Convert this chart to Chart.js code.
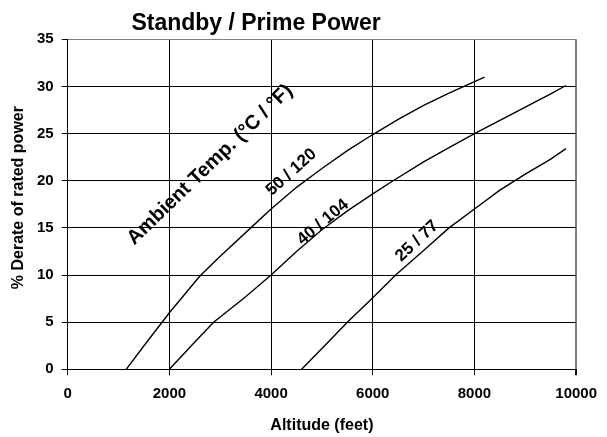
<!DOCTYPE html>
<html>
<head>
<meta charset="utf-8">
<script src="https://cdn.jsdelivr.net/npm/chart.js@4.4.1/dist/chart.umd.min.js"></script>
<style>
  html, body { margin: 0; padding: 0; background: #fff; }
  #wrap { width: 607px; height: 437px; }
</style>
</head>
<body>
<div id="wrap"><canvas id="myChart"></canvas></div>
<script>
// derate curves (altitude in feet, derate in %)
var alt50 = [1150, 1500, 2000, 2600, 3000, 3600, 4000, 4500, 5000, 5500, 6000, 6500, 7000, 7500, 8000, 8200];
var der50 = [0, 2.5, 6.0, 9.9, 12.0, 15.0, 17.0, 19.3, 21.3, 23.2, 24.9, 26.5, 28.0, 29.3, 30.5, 31.0];

var alt40 = [2000, 2500, 2870, 3500, 4000, 4500, 5000, 5500, 6000, 6400, 7000, 7500, 8000, 8500, 9000, 9500, 9800];
var der40 = [0, 2.9, 5.0, 7.7, 10.0, 12.5, 14.8, 16.8, 18.6, 20.0, 22.0, 23.5, 25.0, 26.4, 27.8, 29.2, 30.1];

var alt25 = [4600, 5000, 5500, 6000, 6450, 7000, 7500, 8000, 8500, 9000, 9500, 9800];
var der25 = [0, 2.2, 5.0, 7.6, 10.0, 12.6, 15.0, 17.0, 19.0, 20.7, 22.3, 23.4];

var xTicks = [0, 2000, 4000, 6000, 8000, 10000];
var yTicks = [0, 5, 10, 15, 20, 25, 30, 35];

var FONT = "'Liberation Sans', Arial, sans-serif";

function pts(xs, ys) {
    return xs.map(function (x, i) { return { x: x, y: ys[i] }; });
}

function line(label, xs, ys) {
    return {
        label: label,
        data: pts(xs, ys),
        showLine: true,
        borderColor: '#000',
        borderWidth: 1.4,
        pointRadius: 0,
        tension: 0,
        fill: false
    };
}

// curve labels, anchored in data units
var notes = [
    { text: 'Ambient Temp. (\u00B0C / \u00B0F)', x: 2800, y: 21.7, angle: -44, size: 20 },
    { text: '50 / 120', x: 4400, y: 20.9, angle: -42, size: 17 },
    { text: '40 / 104', x: 5020, y: 15.6, angle: -40, size: 17 },
    { text: '25 / 77', x: 6870, y: 13.6, angle: -43, size: 17 }
];

var notesPlugin = {
    id: 'notes',
    afterDatasetsDraw: function (chart) {
        var ctx = chart.ctx;
        var xs = chart.scales.x, ys = chart.scales.y;
        ctx.save();
        ctx.fillStyle = '#000';
        ctx.textAlign = 'center';
        ctx.textBaseline = 'middle';
        notes.forEach(function (n) {
            ctx.save();
            ctx.translate(xs.getPixelForValue(n.x), ys.getPixelForValue(n.y));
            ctx.rotate(n.angle * Math.PI / 180);
            ctx.font = 'bold ' + n.size + 'px ' + FONT;
            ctx.fillText(n.text, 0, 0);
            ctx.restore();
        });
        ctx.restore();
    }
};

// title sits a bit left of centre in the original
var titlePlugin = {
    id: 'topTitle',
    afterDraw: function (chart) {
        var ctx = chart.ctx;
        ctx.save();
        ctx.fillStyle = '#000';
        ctx.font = 'bold 23px ' + FONT;
        ctx.textAlign = 'center';
        ctx.textBaseline = 'alphabetic';
        ctx.fillText('Standby / Prime Power', 256, 30);
        ctx.restore();
    }
};

var ctx = document.getElementById('myChart').getContext('2d');
var chart = new Chart(ctx, {
    type: 'scatter',
    data: {
        datasets: [
            line('50 / 120', alt50, der50),
            line('40 / 104', alt40, der40),
            line('25 / 77', alt25, der25)
        ]
    },
    plugins: [notesPlugin, titlePlugin],
    options: {
        responsive: true,
        maintainAspectRatio: false,
        animation: false,
        layout: { padding: { top: 39.3, right: 23.7, bottom: 0, left: 0 } },
        plugins: {
            legend: { display: false },
            tooltip: { enabled: false }
        },
        scales: {
            x: {
                type: 'linear',
                min: 0,
                max: 10000,
                afterBuildTicks: function (s) { s.ticks = xTicks.map(function (v) { return { value: v }; }); },
                afterFit: function (s) { s.height = 67.7; },
                ticks: {
                    color: '#000',
                    padding: 10,
                    maxRotation: 0,
                    callback: function (v) { return String(v); },
                    font: { family: FONT, size: 15, weight: 'bold' }
                },
                grid: {
                    color: function (c) { return c.tick && c.tick.value === 10000 ? '#808080' : '#000'; },
                    lineWidth: function (c) { return c.tick && c.tick.value === 10000 ? 2 : 1; },
                    tickLength: 6,
                    tickColor: '#000'
                },
                border: { color: '#000', width: 1 },
                title: {
                    display: true,
                    text: 'Altitude (feet)',
                    color: '#000',
                    padding: { top: 0, bottom: 1.4 },
                    font: { family: FONT, size: 16, weight: 'bold' }
                }
            },
            y: {
                type: 'linear',
                min: 0,
                max: 35,
                afterBuildTicks: function (s) { s.ticks = yTicks.map(function (v) { return { value: v }; }); },
                afterFit: function (s) { s.width = 67.7; },
                ticks: {
                    color: '#000',
                    padding: 8,
                    callback: function (v) { return String(v); },
                    font: { family: FONT, size: 15, weight: 'bold' }
                },
                grid: {
                    color: function (c) { return c.tick && c.tick.value === 35 ? '#808080' : '#000'; },
                    lineWidth: 1,
                    tickLength: 6,
                    tickColor: '#000'
                },
                border: { color: '#000', width: 1 },
                title: {
                    display: true,
                    // leading spaces nudge the label up a little, as in the original
                    text: '   % Derate of rated power',
                    color: '#000',
                    padding: { top: 9.4, bottom: 0 },
                    font: { family: FONT, size: 16, weight: 'bold' }
                }
            }
        }
    }
});
</script>
</body>
</html>
